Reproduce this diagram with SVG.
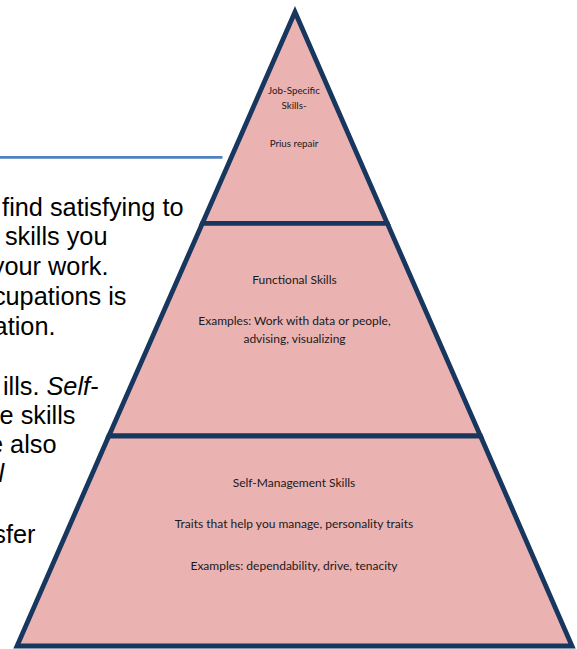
<svg xmlns="http://www.w3.org/2000/svg" width="577" height="649" viewBox="0 0 577 649">
  <style>
    .body { font-family: "Liberation Sans", Arial, sans-serif; font-size: 25.3px; fill: #000000; }
    .it { font-style: italic; }
    .seg { fill: #EBB2B2; stroke: #17375E; stroke-width: 4.8; stroke-linejoin: miter; stroke-miterlimit: 10; }
    .lbl { font-family: Lato, "Noto Sans", sans-serif; fill: #1a1a1a; text-anchor: middle; }
    .s1 { font-size: 9.8px; }
    .s2 { font-size: 12px; }
  </style>
  <rect width="577" height="649" fill="#ffffff"/>

  <g id="rule">
    <line x1="0" y1="157.3" x2="222.5" y2="157.3" stroke="#4F81BD" stroke-width="2.8"/>
  </g>

  <g id="body-text" text-anchor="end">
    <text class="body" x="183.5" y="216">find satisfying to</text>
    <text class="body" x="107.5" y="245">skills you</text>
    <text class="body" x="108.5" y="275">your work.</text>
    <text class="body" x="126.5" y="305">cupations is</text>
    <text class="body" x="55.5" y="335">ation.</text>
    <text class="body" x="98.5" y="395">ills. <tspan class="it">Self-</tspan></text>
    <text class="body" x="75.5" y="424">e skills</text>
    <text class="body" x="56.5" y="453">e also</text>
    <text class="body it" x="4" y="482">l</text>
    <text class="body" x="35.5" y="543">sfer</text>
  </g>

  <g id="job-specific">
    <polygon class="seg" points="295,12 387.3,223.3 202.4,223.3"/>
    <text class="lbl s1" x="294" y="94">Job-Specific</text>
    <text class="lbl s1" x="294" y="109">Skills-</text>
    <text class="lbl s1" x="294" y="147">Prius repair</text>
  </g>

  <g id="functional">
    <polygon class="seg" points="202.4,223.3 387.3,223.3 480.5,436 108.8,436"/>
    <text class="lbl s2" x="294.5" y="284">Functional Skills</text>
    <text class="lbl s2" x="294.5" y="325">Examples: Work with data or people,</text>
    <text class="lbl s2" x="294.5" y="343">advising, visualizing</text>
  </g>

  <g id="self-management">
    <polygon class="seg" points="108.8,436 480.5,436 572,646 17,646"/>
    <text class="lbl s2" x="294" y="487">Self-Management Skills</text>
    <text class="lbl s2" x="294" y="528">Traits that help you manage, personality traits</text>
    <text class="lbl s2" x="294" y="570">Examples: dependability, drive, tenacity</text>
  </g>
</svg>
